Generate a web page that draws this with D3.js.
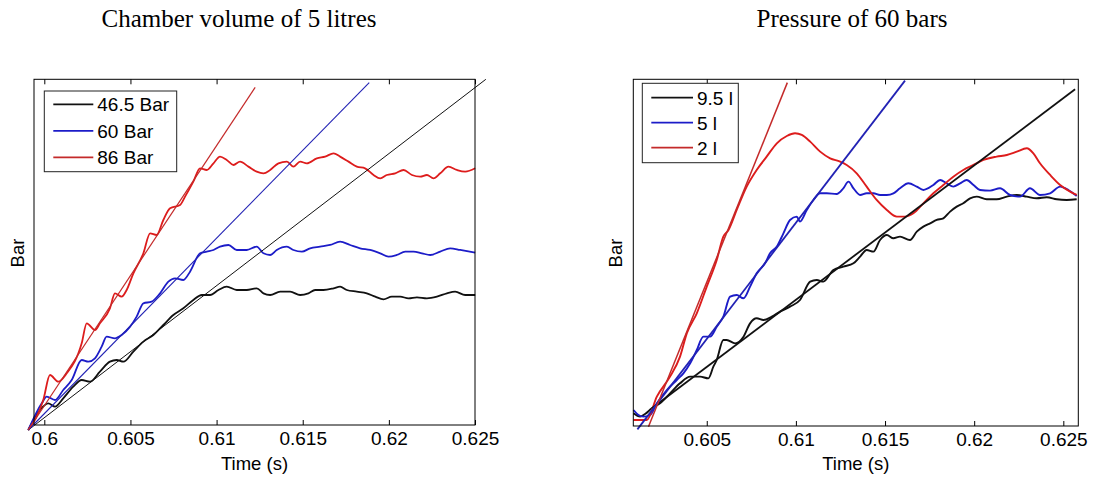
<!DOCTYPE html>
<html>
<head>
<meta charset="utf-8">
<script src="https://cdnjs.cloudflare.com/ajax/libs/d3/7.8.5/d3.min.js"></script>
<style>
  body { margin: 0; background: #fff; }
  svg { display: block; }
  .axis text { font-family: "Liberation Sans", Arial, sans-serif; font-size: 19px; fill: #000; }
  .axis path, .axis line { stroke: #000; }
  .lbl { font-family: "Liberation Sans", Arial, sans-serif; font-size: 18.5px; fill: #000; }
  .ttl { font-family: "Liberation Serif", "Times New Roman", serif; font-size: 25px; fill: #000; }
  .leg { font-family: "Liberation Sans", Arial, sans-serif; font-size: 19px; fill: #000; }
</style>
</head>
<body>
<svg width="1093" height="477"></svg>
<script>
// ---- data : time (s) , pressure (arbitrary, axis has no labels) ----

// left : chamber volume of 5 litres
var volTicks = [0.6, 0.605, 0.61, 0.615, 0.62, 0.625];
var volLegend = ["46.5 Bar", "60 Bar", "86 Bar"];

var vol465 = [[0.59907,-1.5],[0.59975,4.5],[0.60023,6.5],[0.60062,5.5],[0.60110,8],[0.60168,11.5],[0.60217,13.5],
  [0.60265,13],[0.60323,16],[0.60381,19],[0.60420,19.5],[0.60459,19],[0.60517,22],[0.60575,25],[0.60633,27],
  [0.60691,30],[0.60749,33],[0.60807,35],[0.60865,37.5],[0.60914,39],[0.60962,39],[0.61011,40.5],[0.61059,41.5],
  [0.61117,40.5],[0.61175,40.5],[0.61233,41],[0.61272,39.5],[0.61311,39],[0.61369,40],[0.61427,40],[0.61485,39],
  [0.61533,39.5],[0.61572,40.5],[0.61620,40.5],[0.61679,41],[0.61717,41.5],[0.61756,40.5],[0.61814,40],
  [0.61872,39.5],[0.61921,38.5],[0.61969,37.7],[0.62017,38.5],[0.62066,38.5],[0.62114,38],[0.62163,38.3],
  [0.62221,38],[0.62279,38.5],[0.62337,39.5],[0.62385,40],[0.62443,39],[0.62501,39]];

var vol60 = [[0.59907,-1.5],[0.59985,6.5],[0.60014,8.5],[0.60062,7.5],[0.60110,10.5],[0.60159,13.5],[0.60217,19.5],
  [0.60256,19],[0.60294,20],[0.60333,23.5],[0.60362,26.5],[0.60410,26],[0.60449,27],[0.60498,29.5],[0.60536,32.5],
  [0.60575,36.5],[0.60623,37],[0.60672,39.5],[0.60720,43],[0.60759,44],[0.60807,43.5],[0.60846,46],[0.60904,51.5],
  [0.60943,52],[0.60982,52.5],[0.61020,53.5],[0.61069,54],[0.61117,52.5],[0.61175,52.5],[0.61233,53.5],
  [0.61272,51.5],[0.61311,51],[0.61349,52.5],[0.61408,53.5],[0.61446,52.5],[0.61495,52],[0.61543,53],
  [0.61601,53.5],[0.61659,54],[0.61717,55],[0.61775,54],[0.61833,53],[0.61891,52.5],[0.61950,51.5],
  [0.61998,50.5],[0.62046,51],[0.62095,52],[0.62143,52],[0.62192,51.5],[0.62240,51],[0.62298,52],[0.62356,53],
  [0.62414,52.5],[0.62501,51.7]];

var vol86 = [[0.59907,-1.5],[0.59994,7.5],[0.60033,15],[0.60081,13],[0.60130,15.5],[0.60217,24.5],[0.60246,30.5],
  [0.60294,28.5],[0.60323,30.5],[0.60381,35],[0.60410,39.5],[0.60449,38.5],[0.60478,40.5],[0.60517,45.5],
  [0.60575,51.5],[0.60614,57.5],[0.60652,57],[0.60691,61.5],[0.60730,65],[0.60788,66],[0.60817,68.5],[0.60865,73],
  [0.60904,77],[0.60943,76.5],[0.60982,78.5],[0.61020,80.5],[0.61059,79.5],[0.61098,78],[0.61136,79],[0.61185,77.5],
  [0.61233,76],[0.61272,75.5],[0.61311,76.5],[0.61359,78.5],[0.61408,79],[0.61446,77.5],[0.61485,79],[0.61524,78.5],
  [0.61582,80],[0.61630,80.5],[0.61679,81.5],[0.61717,80.5],[0.61766,79],[0.61814,77.5],[0.61862,77],[0.61911,75],
  [0.61950,74],[0.61988,75],[0.62037,75.5],[0.62085,76.5],[0.62134,75],[0.62182,74.5],[0.62221,75],[0.62259,74],
  [0.62298,75.5],[0.62346,77.5],[0.62395,76.5],[0.62443,76],[0.62501,77]];

var vol465Fit = [[0.59907,-1.5],[0.62563,103.7]];
var vol60Fit  = [[0.59907,-1.5],[0.61886,102.7]];
var vol86Fit  = [[0.59907,-1.5],[0.61224,101.3]];

// right : pressure of 60 bars
var presTicks = [0.605, 0.61, 0.615, 0.62, 0.625];
var presLegend = ["9.5 l", "5 l", "2 l"];

var pres95 = [[0.60089,3.8],[0.60126,2.8],[0.60154,3.6],[0.60192,5.3],[0.60238,6.8],[0.60294,9.8],[0.60350,12.8],
  [0.60407,14.8],[0.60463,14.8],[0.60509,14.3],[0.60537,17.8],[0.60556,19.8],[0.60593,25.8],[0.60612,25.8],
  [0.60659,24.8],[0.60706,26.8],[0.60743,30.8],[0.60780,32.3],[0.60818,31.8],[0.60865,32.8],[0.60911,34.3],
  [0.60967,35.8],[0.61023,37.8],[0.61080,43.3],[0.61117,43.8],[0.61154,43.3],[0.61210,46.8],[0.61266,47.8],
  [0.61323,48.8],[0.61360,50.8],[0.61397,52.8],[0.61435,52.3],[0.61472,55.8],[0.61510,57.3],[0.61547,56.3],
  [0.61584,56.8],[0.61640,55.8],[0.61678,58.3],[0.61715,59.8],[0.61753,60.8],[0.61790,61.8],[0.61827,62.3],
  [0.61865,64.3],[0.61902,65.8],[0.61939,66.8],[0.61977,68.3],[0.62014,68.8],[0.62070,68],[0.62126,68],
  [0.62183,68.8],[0.62239,69.3],[0.62295,68.8],[0.62351,68.3],[0.62407,68.6],[0.62463,68],[0.62519,67.8],
  [0.62575,68]];

var pres5 = [[0.60089,4.8],[0.60117,3.3],[0.60145,2.8],[0.60182,3.3],[0.60220,6.8],[0.60276,10.8],[0.60332,13.8],
  [0.60369,15.8],[0.60407,18.8],[0.60444,22.8],[0.60481,26.8],[0.60519,26.8],[0.60556,29.8],[0.60593,32.8],
  [0.60631,38.8],[0.60668,39.3],[0.60706,38.3],[0.60743,41.8],[0.60780,45.8],[0.60827,48.8],[0.60855,51.8],
  [0.60893,53.8],[0.60930,57.8],[0.60967,61.8],[0.61005,62.8],[0.61023,61.3],[0.61061,64.8],[0.61098,67.8],
  [0.61136,69.8],[0.61173,69.8],[0.61229,69.6],[0.61266,71.3],[0.61295,73.3],[0.61323,71.3],[0.61360,69.3],
  [0.61397,69.8],[0.61435,69.8],[0.61472,69.3],[0.61510,69.3],[0.61547,69.8],[0.61584,71.3],[0.61631,72.8],
  [0.61678,71.8],[0.61715,70.8],[0.61771,72.3],[0.61809,73.8],[0.61846,72.8],[0.61883,71.8],[0.61921,72.8],
  [0.61958,73.8],[0.61996,72.3],[0.62033,70.8],[0.62089,70.6],[0.62145,71.3],[0.62201,69.3],[0.62257,68.8],
  [0.62313,71.3],[0.62369,69.3],[0.62426,69.8],[0.62482,71.8],[0.62528,70.8],[0.62575,69]];

var pres2 = [[0.60089,1.8],[0.60164,1.8],[0.60220,8.8],[0.60294,14.8],[0.60350,20.8],[0.60388,27.8],[0.60444,33.8],
  [0.60500,41.8],[0.60556,49.8],[0.60593,56.8],[0.60622,58.8],[0.60668,64.8],[0.60724,71.8],[0.60780,76.8],
  [0.60836,80.8],[0.60893,84.8],[0.60949,87],[0.60995,87.8],[0.61033,87.3],[0.61080,85.3],[0.61136,82.3],
  [0.61192,80.3],[0.61248,79.3],[0.61285,78.3],[0.61341,75.8],[0.61397,71.8],[0.61453,67.8],[0.61510,64.8],
  [0.61566,62.8],[0.61612,62.8],[0.61659,63.8],[0.61715,66.8],[0.61771,69.8],[0.61827,72.3],[0.61883,74.8],
  [0.61939,76.8],[0.61996,78.3],[0.62052,79.8],[0.62126,80.8],[0.62183,81.3],[0.62239,82.3],[0.62295,83.3],
  [0.62332,81.8],[0.62369,78.8],[0.62426,75.3],[0.62482,72.3],[0.62538,70.3],[0.62575,69.3]];

var pres95Fit = [[0.60192,5.3],[0.62566,101]];
var pres5Fit  = [[0.60111,-1],[0.61612,103.6]];
var pres2Fit  = [[0.60173,-0.2],[0.60952,103]];

var colBlack = "#111", colBlue = "#1c1cc8", colRed = "#dd1c1c";
var fitBlue = "#2222b4", fitRed = "#c42a2a";

var svg = d3.select("svg");

function panel(o) {
  var x = d3.scaleLinear().domain(o.xDomain).range([o.left, o.right]),
      y = d3.scaleLinear().domain(o.yDomain).range([o.bottom, o.top]);

  var line = d3.line()
      .curve(d3.curveMonotoneX)
      .x(function(d) { return x(d[0]); })
      .y(function(d) { return y(d[1]); });

  var g = svg.append("g");

  g.append("rect")
      .attr("x", o.left).attr("y", o.top)
      .attr("width", o.right - o.left).attr("height", o.bottom - o.top)
      .attr("fill", "#fff");

  // data curves then fitted straight lines
  o.series.forEach(function(s) {
    g.append("path")
        .datum(s.data)
        .attr("fill", "none")
        .attr("stroke", s.color)
        .attr("stroke-width", s.width)
        .attr("stroke-linejoin", "round")
        .attr("d", line);
  });

  // axes, matlab style : inward ticks on bottom and top
  g.append("g")
      .attr("class", "axis")
      .attr("transform", "translate(0," + o.bottom + ")")
      .call(d3.axisBottom(x).tickValues(o.ticks).tickFormat(d3.format("")).tickSizeInner(-5).tickSizeOuter(0).tickPadding(7))
      .call(function(a) { a.select(".domain").remove(); });
  g.append("g")
      .attr("class", "axis")
      .attr("transform", "translate(0," + o.top + ")")
      .call(d3.axisTop(x).tickValues(o.ticks).tickFormat("").tickSizeInner(-5).tickSizeOuter(0))
      .call(function(a) { a.select(".domain").remove(); });

  g.append("rect")
      .attr("x", o.left).attr("y", o.top)
      .attr("width", o.right - o.left).attr("height", o.bottom - o.top)
      .attr("fill", "none").attr("stroke", "#000").attr("stroke-width", 1);

  g.append("text").attr("class", "lbl")
      .attr("x", (o.left + o.right) / 2).attr("y", 470)
      .attr("text-anchor", "middle").text("Time (s)");
  g.append("text").attr("class", "lbl")
      .attr("transform", "translate(" + o.ylabX + ",253) rotate(-90)")
      .attr("text-anchor", "middle").text("Bar");
  g.append("text").attr("class", "ttl")
      .attr("x", o.titleX).attr("y", 27)
      .attr("text-anchor", "middle").text(o.title);

  // legend
  var L = o.legend;
  g.append("rect")
      .attr("x", L.x).attr("y", L.y).attr("width", L.w).attr("height", L.h)
      .attr("fill", "#fff").attr("stroke", "#222").attr("stroke-width", 1);
  L.items.forEach(function(it, i) {
    var yy = L.y + L.first + i * L.step;
    g.append("line")
        .attr("x1", L.x + 9).attr("x2", L.x + 9 + L.len)
        .attr("y1", yy).attr("y2", yy)
        .attr("stroke", it.color).attr("stroke-width", 1.8);
    g.append("text").attr("class", "leg")
        .attr("x", L.x + 9 + L.len + 4).attr("y", yy + 7)
        .text(it.label);
  });
}

panel({
  left: 34, right: 475, top: 79.3, bottom: 425,
  xDomain: [0.599402, 0.625], yDomain: [0, 103.7],
  ticks: volTicks, ylabX: 24, titleX: 239,
  title: "Chamber volume of 5 litres",
  series: [
    {data: vol465, color: colBlack, width: 1.8},
    {data: vol60, color: colBlue, width: 1.8},
    {data: vol86, color: colRed, width: 1.8},
    {data: vol465Fit, color: colBlack, width: 1},
    {data: vol60Fit, color: fitBlue, width: 1.1},
    {data: vol86Fit, color: fitRed, width: 1.2}
  ],
  legend: {x: 44.3, y: 91, w: 132.4, h: 80.7, first: 13.3, step: 26.5, len: 40,
    items: [{label: volLegend[0], color: colBlack}, {label: volLegend[1], color: colBlue}, {label: volLegend[2], color: fitRed}]}
});

panel({
  left: 633.3, right: 1078.3, top: 79.3, bottom: 426,
  xDomain: [0.60088, 0.62584], yDomain: [0, 104],
  ticks: presTicks, ylabX: 622, titleX: 852,
  title: "Pressure of 60 bars",
  series: [
    {data: pres95, color: colBlack, width: 1.9},
    {data: pres5, color: colBlue, width: 1.9},
    {data: pres2, color: colRed, width: 1.9},
    {data: pres95Fit, color: colBlack, width: 1.8},
    {data: pres5Fit, color: fitBlue, width: 1.8},
    {data: pres2Fit, color: fitRed, width: 1.5}
  ],
  legend: {x: 642.3, y: 83.3, w: 96, h: 79.4, first: 14.4, step: 25, len: 41.7,
    items: [{label: presLegend[0], color: colBlack}, {label: presLegend[1], color: colBlue}, {label: presLegend[2], color: fitRed}]}
});
</script>
</body>
</html>
